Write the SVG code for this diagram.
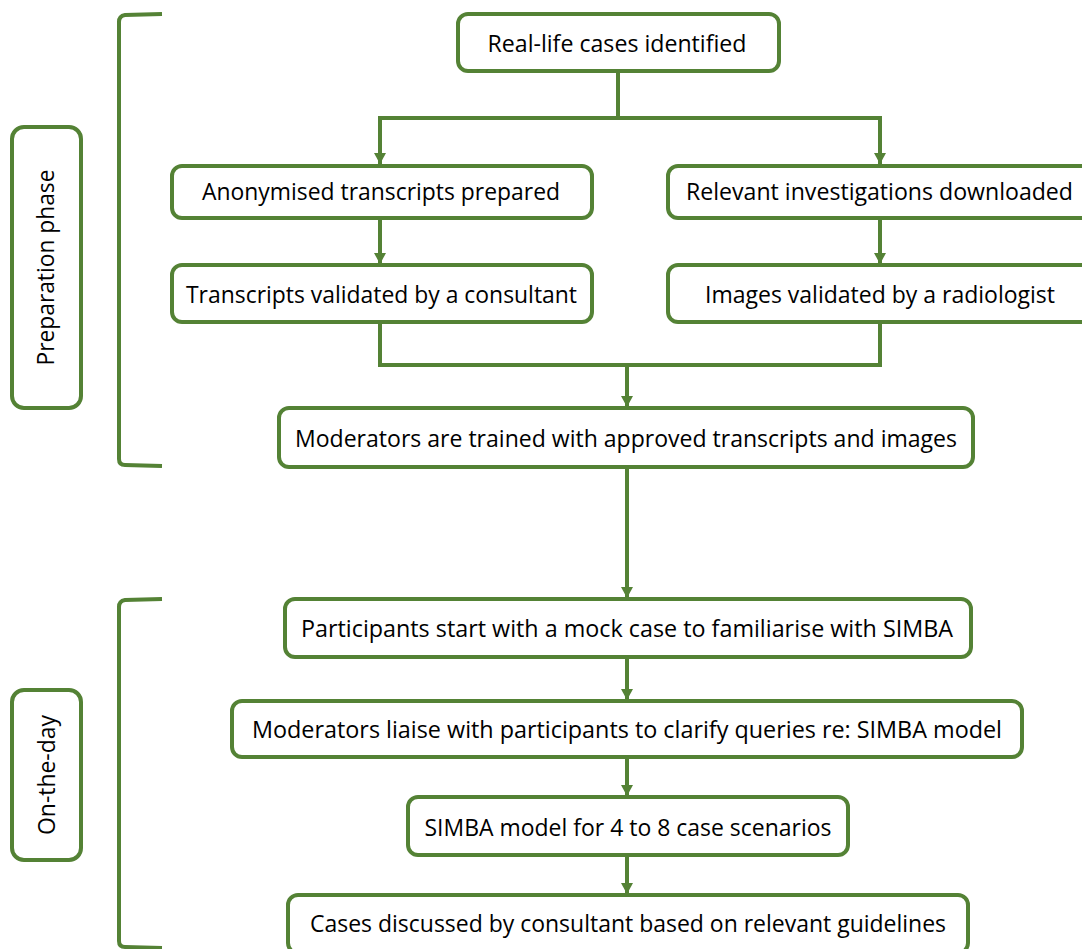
<svg xmlns="http://www.w3.org/2000/svg" width="1082" height="949" viewBox="0 0 1082 949">
<style>
.box{fill:#fff;stroke:#548235;stroke-width:4}
.ln{fill:none;stroke:#548235;stroke-width:4}
.t{font-family:"Open Sans","Liberation Sans",sans-serif;font-size:23px;fill:#000;text-anchor:middle}
</style>
<defs>
<marker id="ah" markerUnits="userSpaceOnUse" markerWidth="12" markerHeight="12" refX="11" refY="6" orient="auto">
<path d="M0,0 L11,6 L0,12 Z" fill="#548235"/>
</marker>
</defs>
<rect width="1082" height="949" fill="#fff"/>
<g id="connectors">
<path class="ln" d="M618,71 V118 M378,118 H882"/>
<path class="ln" d="M380,118 V164" marker-end="url(#ah)"/>
<path class="ln" d="M880,118 V164" marker-end="url(#ah)"/>
<path class="ln" d="M380,218 V264" marker-end="url(#ah)"/>
<path class="ln" d="M880,218 V264" marker-end="url(#ah)"/>
<path class="ln" d="M380,322 V365 H880 V322"/>
<path class="ln" d="M627,365 V407" marker-end="url(#ah)"/>
<path class="ln" d="M627,467 V598" marker-end="url(#ah)"/>
<path class="ln" d="M627,657 V700" marker-end="url(#ah)"/>
<path class="ln" d="M627,757 V796" marker-end="url(#ah)"/>
<path class="ln" d="M627,855 V894" marker-end="url(#ah)"/>
</g>
<g id="bracket-prep"><path class="ln" d="M162,14 L125,15 Q119,16 119,22 L119,459 Q119,465 125,465 L162,466"/></g>
<g id="bracket-day"><path class="ln" d="M162,599 L125,600 Q119,601 119,607 L119,941 Q119,947 125,947 L162,948"/></g>
<g id="prep-label"><rect class="box" x="12" y="127" width="69" height="281" rx="12"/><text class="t" transform="translate(54,267.5) rotate(-90)" textLength="196" lengthAdjust="spacingAndGlyphs">Preparation phase</text></g>
<g id="day-label"><rect class="box" x="12" y="690" width="69" height="170" rx="12"/><text class="t" transform="translate(55,775) rotate(-90)" textLength="120" lengthAdjust="spacingAndGlyphs">On-the-day</text></g>
<g id="n1"><rect class="box" x="458" y="14" width="321" height="57" rx="10"/><text class="t" x="617" y="52" textLength="259" lengthAdjust="spacingAndGlyphs">Real-life cases identified</text></g>
<g id="n2"><rect class="box" x="172" y="166" width="420" height="52" rx="10"/><text class="t" x="381" y="200" textLength="358" lengthAdjust="spacingAndGlyphs">Anonymised transcripts prepared</text></g>
<g id="n3"><rect class="box" x="668" y="166" width="424" height="52" rx="10"/><text class="t" x="879.5" y="200" textLength="387" lengthAdjust="spacingAndGlyphs">Relevant investigations downloaded</text></g>
<g id="n4"><rect class="box" x="172" y="265" width="420" height="57" rx="10"/><text class="t" x="381.5" y="303" textLength="391" lengthAdjust="spacingAndGlyphs">Transcripts validated by a consultant</text></g>
<g id="n5"><rect class="box" x="668" y="265" width="424" height="57" rx="10"/><text class="t" x="880" y="303" textLength="350" lengthAdjust="spacingAndGlyphs">Images validated by a radiologist</text></g>
<g id="n6"><rect class="box" x="279" y="408" width="694" height="59" rx="10"/><text class="t" x="626" y="447" textLength="662" lengthAdjust="spacingAndGlyphs">Moderators are trained with approved transcripts and images</text></g>
<g id="n7"><rect class="box" x="285" y="599" width="686" height="58" rx="10"/><text class="t" x="627" y="637" textLength="652" lengthAdjust="spacingAndGlyphs">Participants start with a mock case to familiarise with SIMBA</text></g>
<g id="n8"><rect class="box" x="232" y="701" width="790" height="56" rx="10"/><text class="t" x="627" y="738" textLength="750" lengthAdjust="spacingAndGlyphs">Moderators liaise with participants to clarify queries re: SIMBA model</text></g>
<g id="n9"><rect class="box" x="408" y="797" width="440" height="58" rx="10"/><text class="t" x="628" y="836" textLength="407" lengthAdjust="spacingAndGlyphs">SIMBA model for 4 to 8 case scenarios</text></g>
<g id="n10"><rect class="box" x="288" y="895" width="680" height="58" rx="10"/><text class="t" x="628" y="932" textLength="636" lengthAdjust="spacingAndGlyphs">Cases discussed by consultant based on relevant guidelines</text></g>
</svg>
